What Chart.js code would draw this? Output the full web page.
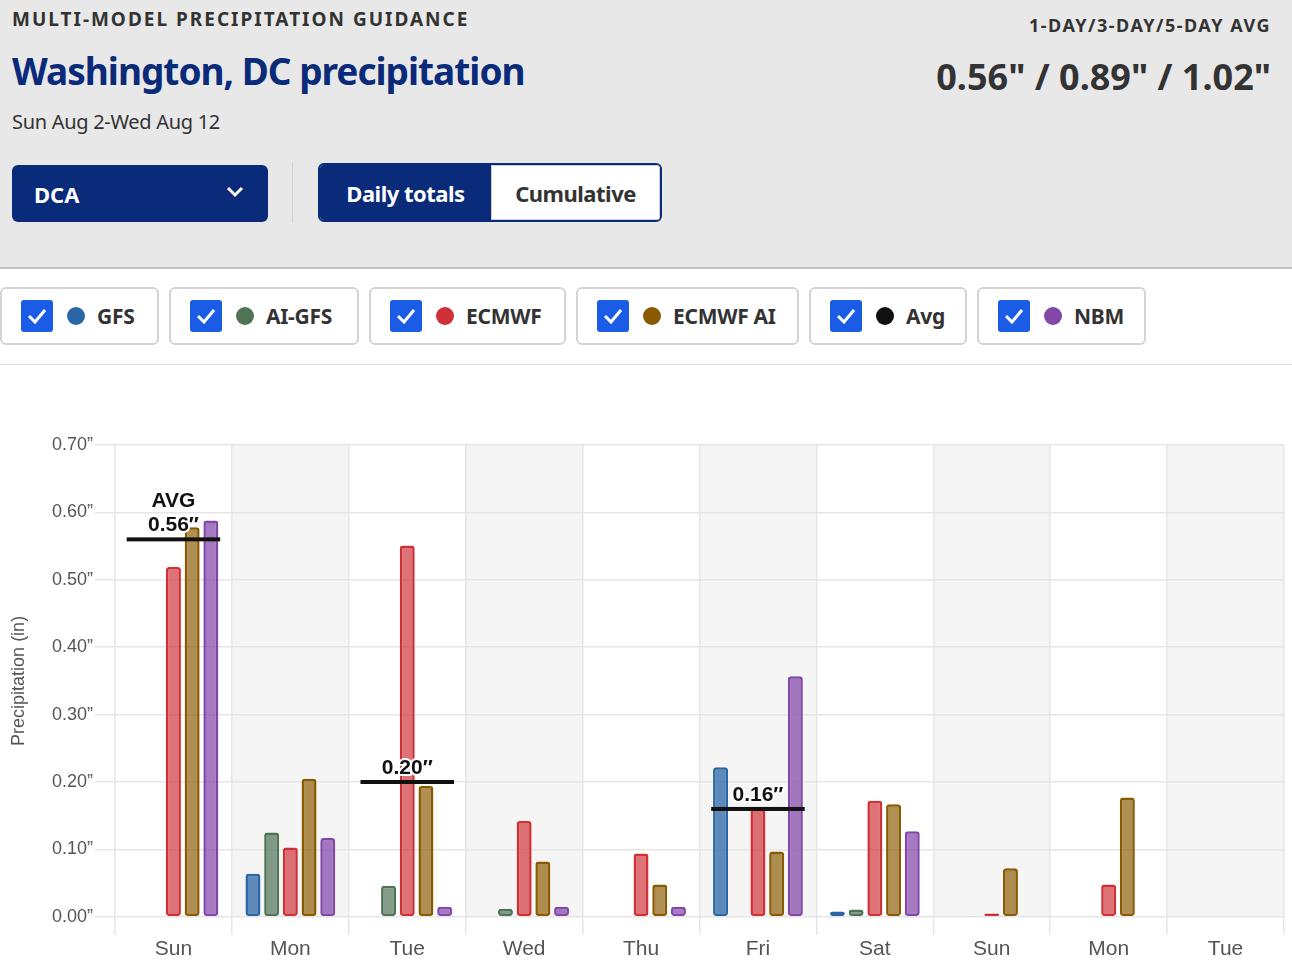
<!DOCTYPE html>
<html>
<head>
<meta charset="utf-8">
<script src="https://cdn.jsdelivr.net/npm/chart.js@4"></script>
<style>
  body { margin: 0; width: 1292px; height: 964px; overflow: hidden; background: #fff; font-family: "Noto Sans", sans-serif; }
  .head { position: absolute; left: 0; top: 0; width: 1292px; height: 267px; background: #e8e8e8; border-bottom: 2px solid #c4c4c4; }
  .kicker { position: absolute; left: 12px; top: 6px; font-size: 19px; font-weight: 700; letter-spacing: 2px; color: #333; }
  .title { position: absolute; left: 12px; top: 45px; font-size: 37px; font-weight: 700; color: #0a2a7a; letter-spacing: -1px; }
  .dates { position: absolute; left: 12px; top: 108px; font-size: 20px; color: #333; letter-spacing: -0.3px; }
  .avgk { position: absolute; right: 21px; top: 13px; font-size: 18px; font-weight: 700; letter-spacing: 1.5px; color: #333; }
  .avgv { position: absolute; right: 21px; top: 52px; font-size: 36px; font-weight: 700; color: #333; }
  .sel { position: absolute; left: 12px; top: 165px; width: 256px; height: 57px; background: #0a2a7a; border-radius: 6px; color: #fff; font-size: 22px; font-weight: 700; box-sizing: border-box; padding: 14px 22px; }
  .sel svg { position: absolute; right: 24px; top: 21px; }
  .sep { position: absolute; left: 292px; top: 163px; width: 1px; height: 60px; background: #d0d0d0; }
  .tog { position: absolute; left: 318px; top: 163px; width: 344px; height: 59px; border: 2px solid #0a2a7a; border-radius: 6px; box-sizing: border-box; overflow: hidden; display: flex; background: #fff; }
  .tog div { font-size: 22px; font-weight: 700; display: flex; align-items: center; justify-content: center; letter-spacing: -0.5px; }
  .tog .on { background: #0a2a7a; color: #fff; width: 171px; }
  .tog .off { color: #333; flex: 1; border: 1px solid #ccc; }
  .legend { position: absolute; left: 0; top: 287px; height: 58px; }
  .item { position: absolute; top: 0; height: 58px; border: 2px solid #d4d4d4; border-radius: 6px; box-sizing: border-box; background: #fff; display: flex; align-items: center; font-size: 21px; font-weight: 700; color: #333; letter-spacing: -0.3px; }
  .cb { width: 32px; height: 32px; background: #1a5ce6; border-radius: 3px; margin-left: 19px; margin-right: 14px; display: flex; align-items: center; justify-content: center; }
  .dot { width: 18px; height: 18px; border-radius: 50%; margin-right: 12px; }
  .rule { position: absolute; left: 0; top: 364px; width: 1292px; height: 1px; background: #e2e2e2; }
  .wrap { position: absolute; left: 0; top: 370px; width: 1292px; height: 594px; }
</style>
</head>
<body>
<div class="head">
  <div class="kicker">MULTI-MODEL PRECIPITATION GUIDANCE</div>
  <div class="title">Washington, DC precipitation</div>
  <div class="dates">Sun Aug 2-Wed Aug 12</div>
  <div class="avgk">1-DAY/3-DAY/5-DAY AVG</div>
  <div class="avgv">0.56" / 0.89" / 1.02"</div>
  <div class="sel">DCA<svg width="18" height="12" viewBox="0 0 18 12"><path d="M2 2 L9 9 L16 2" stroke="#fff" stroke-width="3" fill="none"/></svg></div>
  <div class="sep"></div>
  <div class="tog"><div class="on">Daily totals</div><div class="off">Cumulative</div></div>
</div>
<div class="legend" id="legend"></div>
<div class="rule"></div>
<div class="wrap"><canvas id="c"></canvas></div>
<script>
const days = ['Sun', 'Mon', 'Tue', 'Wed', 'Thu', 'Fri', 'Sat', 'Sun', 'Mon', 'Tue'];
const gfs     = [null, 0.064, null, null, null, 0.222, 0.008, null, null, null];
const aiGfs   = [null, 0.125, 0.046, 0.012, null, null, 0.011, 0.001, null, null];
const ecmwf   = [0.519, 0.103, 0.551, 0.142, 0.094, 0.16, 0.172, 0.005, 0.048, null];
const ecmwfAi = [0.578, 0.205, 0.194, 0.082, 0.048, 0.097, 0.167, 0.072, 0.177, null];
const nbm     = [0.588, 0.117, 0.015, 0.015, 0.015, 0.357, 0.127, null, null, null];
const avg     = [0.56, null, 0.20, null, null, 0.16, null, null, null, null];
const yTicks  = [0, 0.1, 0.2, 0.3, 0.4, 0.5, 0.6, 0.7];

const models = [
  { name: 'GFS', data: gfs, color: '#2a66a6', fill: 'rgba(42,102,166,0.75)' },
  { name: 'AI-GFS', data: aiGfs, color: '#4f7355', fill: 'rgba(79,115,85,0.7)' },
  { name: 'ECMWF', data: ecmwf, color: '#cf3036', fill: 'rgba(207,48,54,0.68)' },
  { name: 'ECMWF AI', data: ecmwfAi, color: '#8a5a00', fill: 'rgba(138,90,0,0.68)' },
  { name: 'NBM', data: nbm, color: '#8347aa', fill: 'rgba(131,71,170,0.72)' }
];

// legend chips
const chips = [
  { name: 'GFS', color: '#2a66a6', left: 0, width: 159 },
  { name: 'AI-GFS', color: '#4f7355', left: 169, width: 190 },
  { name: 'ECMWF', color: '#cf3036', left: 369, width: 197 },
  { name: 'ECMWF AI', color: '#8a5a00', left: 576, width: 223 },
  { name: 'Avg', color: '#111', left: 809, width: 158 },
  { name: 'NBM', color: '#8347aa', left: 977, width: 169 }
];
const legend = document.getElementById('legend');
chips.forEach(c => {
  legend.innerHTML += `<div class="item" style="left:${c.left}px;width:${c.width}px">
    <div class="cb"><svg width="20" height="16" viewBox="0 0 20 16"><path d="M2 8 L8 14 L18 2" stroke="#fff" stroke-width="3" fill="none"/></svg></div>
    <div class="dot" style="background:${c.color}"></div>${c.name}</div>`;
});

// alternating day stripes
const stripes = {
  id: 'stripes',
  beforeDraw(chart) {
    const { ctx, chartArea, scales } = chart;
    const x = scales.x;
    const w = x.width / days.length;
    ctx.save();
    ctx.fillStyle = '#f5f5f5';
    days.forEach((d, i) => {
      if (i % 2 === 1) {
        const cx = x.getPixelForValue(i);
        ctx.fillRect(cx - w / 2, chartArea.top, w, chartArea.bottom - chartArea.top);
      }
    });
    ctx.restore();
  }
};

// average lines with labels
const avgLines = {
  id: 'avgLines',
  afterDatasetsDraw(chart) {
    const { ctx, scales } = chart;
    const x = scales.x, y = scales.y;
    const half = x.width / days.length * 0.8 / 2;
    ctx.save();
    avg.forEach((v, i) => {
      if (v === null) return;
      const cx = x.getPixelForValue(i);
      const py = y.getPixelForValue(v);
      ctx.fillStyle = '#111';
      ctx.fillRect(cx - half, py - 2, half * 2, 4);
      ctx.font = 'bold 21px "Liberation Sans", Arial';
      ctx.textAlign = 'center';
      ctx.textBaseline = 'alphabetic';
      ctx.lineWidth = 4;
      ctx.strokeStyle = '#fff';
      ctx.lineJoin = 'round';
      const lines = i === 0 ? ['AVG', v.toFixed(2) + '\u2033'] : [v.toFixed(2) + '\u2033'];
      lines.forEach((t, k) => {
        const ty = py - 8 - (lines.length - 1 - k) * 24;
        ctx.strokeText(t, cx, ty);
        ctx.fillText(t, cx, ty);
      });
    });
    ctx.restore();
  }
};

new Chart(document.getElementById('c'), {
  type: 'bar',
  data: {
    labels: days,
    datasets: models.map(m => ({
      label: m.name,
      data: m.data,
      backgroundColor: m.fill,
      borderColor: m.color,
      borderWidth: 2.5,
      borderRadius: 3,
      borderSkipped: false,
      categoryPercentage: 0.8,
      barPercentage: 0.8
    }))
  },
  options: {
    responsive: true,
    maintainAspectRatio: false,
    animation: false,
    layout: { padding: { top: 75, right: 8, left: 4, bottom: 0 } },
    plugins: { legend: { display: false }, tooltip: { enabled: false } },
    scales: {
      x: {
        grid: { color: '#e6e6e6', lineWidth: 1.5, offset: true, tickLength: 18 },
        border: { color: '#e6e6e6' },
        ticks: { color: '#555', font: { family: '"Liberation Sans", Arial', size: 21 }, padding: 2 }
      },
      y: {
        min: 0, max: 0.7,
        afterBuildTicks(axis) { axis.ticks = yTicks.map(v => ({ value: v })); },
        grid: { color: '#e6e6e6', lineWidth: 1.5, tickLength: 20 },
        border: { display: false },
        ticks: {
          color: '#555', padding: 2,
          font: { family: '"Liberation Sans", Arial', size: 18 },
          callback: v => v.toFixed(2) + '\u201d'
        },
        afterFit(axis) { axis.width = 111; },
        title: { display: true, text: 'Precipitation (in)', color: '#555', font: { family: '"Liberation Sans", Arial', size: 18 } }
      }
    }
  },
  plugins: [stripes, avgLines]
});
</script>
</body>
</html>
